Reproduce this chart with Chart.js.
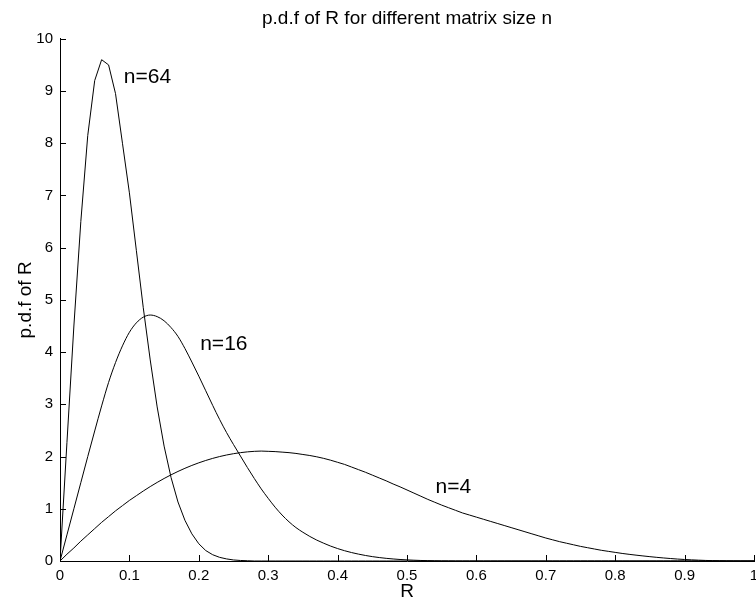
<!DOCTYPE html>
<html>
<head>
<meta charset="utf-8">
<script src="https://cdn.jsdelivr.net/npm/chart.js@4.4.0/dist/chart.umd.min.js"></script>
<style>
  html, body { margin: 0; padding: 0; background: #fff; }
  #wrap { width: 756px; height: 607px; }
</style>
</head>
<body>
<div id="wrap"><canvas id="pdfChart" width="756" height="607"></canvas></div>
<script>
// R grid, step 0.01
var rValues = [
  0.00, 0.01, 0.02, 0.03, 0.04, 0.05, 0.06, 0.07, 0.08, 0.09,
  0.10, 0.11, 0.12, 0.13, 0.14, 0.15, 0.16, 0.17, 0.18, 0.19,
  0.20, 0.21, 0.22, 0.23, 0.24, 0.25, 0.26, 0.27, 0.28, 0.29,
  0.30, 0.31, 0.32, 0.33, 0.34, 0.35, 0.36, 0.37, 0.38, 0.39,
  0.40, 0.41, 0.42, 0.43, 0.44, 0.45, 0.46, 0.47, 0.48, 0.49,
  0.50, 0.51, 0.52, 0.53, 0.54, 0.55, 0.56, 0.57, 0.58, 0.59,
  0.60, 0.61, 0.62, 0.63, 0.64, 0.65, 0.66, 0.67, 0.68, 0.69,
  0.70, 0.71, 0.72, 0.73, 0.74, 0.75, 0.76, 0.77, 0.78, 0.79,
  0.80, 0.81, 0.82, 0.83, 0.84, 0.85, 0.86, 0.87, 0.88, 0.89,
  0.90, 0.91, 0.92, 0.93, 0.94, 0.95, 0.96, 0.97, 0.98, 0.99,
  1.00
];

var pdfN64 = [
  0, 2.27, 4.5, 6.5, 8.15, 9.2, 9.6, 9.5, 8.95, 8.0,
  7.05, 5.95, 4.85, 3.85, 2.95, 2.2, 1.6, 1.13, 0.78, 0.52,
  0.33, 0.2, 0.12, 0.07, 0.04, 0.02, 0.01, 0.005, 0, 0,
  0, 0, 0, 0, 0, 0, 0, 0, 0, 0,
  0, 0, 0, 0, 0, 0, 0, 0, 0, 0,
  0, 0, 0, 0, 0, 0, 0, 0, 0, 0,
  0, 0, 0, 0, 0, 0, 0, 0, 0, 0,
  0, 0, 0, 0, 0, 0, 0, 0, 0, 0,
  0, 0, 0, 0, 0, 0, 0, 0, 0, 0,
  0, 0, 0, 0, 0, 0, 0, 0, 0, 0,
  0
];

var pdfN16 = [
  0, 0.5, 1.0, 1.5, 2.0, 2.49, 2.97, 3.42, 3.8, 4.12,
  4.38, 4.56, 4.67, 4.71, 4.68, 4.6, 4.47, 4.3, 4.07, 3.81,
  3.54, 3.26, 2.98, 2.71, 2.46, 2.23, 2.01, 1.79, 1.58, 1.38,
  1.2, 1.03, 0.88, 0.75, 0.64, 0.55, 0.47, 0.4, 0.34, 0.285,
  0.238, 0.197, 0.162, 0.132, 0.106, 0.084, 0.066, 0.051, 0.039, 0.029,
  0.021, 0.015, 0.01, 0.007, 0.004, 0.002, 0.001, 0, 0, 0,
  0, 0, 0, 0, 0, 0, 0, 0, 0, 0,
  0, 0, 0, 0, 0, 0, 0, 0, 0, 0,
  0, 0, 0, 0, 0, 0, 0, 0, 0, 0,
  0, 0, 0, 0, 0, 0, 0, 0, 0, 0,
  0
];

var pdfN4 = [
  0, 0.13, 0.25, 0.38, 0.5, 0.62, 0.74, 0.85, 0.96, 1.06,
  1.16, 1.25, 1.34, 1.425, 1.505, 1.58, 1.65, 1.715, 1.775, 1.83,
  1.88, 1.925, 1.965, 2.0, 2.03, 2.055, 2.075, 2.09, 2.1, 2.105,
  2.1, 2.095, 2.085, 2.075, 2.06, 2.04, 2.02, 1.995, 1.965, 1.93,
  1.89, 1.85, 1.8, 1.75, 1.7, 1.645, 1.59, 1.535, 1.475, 1.42,
  1.36, 1.3, 1.24, 1.18, 1.125, 1.07, 1.02, 0.97, 0.92, 0.88,
  0.84, 0.8, 0.76, 0.72, 0.68, 0.64, 0.6, 0.56, 0.52, 0.48,
  0.44, 0.405, 0.37, 0.34, 0.31, 0.28, 0.255, 0.23, 0.205, 0.185,
  0.165, 0.145, 0.128, 0.112, 0.097, 0.083, 0.07, 0.058, 0.047, 0.037,
  0.029, 0.022, 0.016, 0.011, 0.007, 0.004, 0.002, 0.001, 0, 0,
  0
];

var xTicks = [0, 0.1, 0.2, 0.3, 0.4, 0.5, 0.6, 0.7, 0.8, 0.9, 1];
var yTicks = [0, 1, 2, 3, 4, 5, 6, 7, 8, 9, 10];

// curve labels: text, R position, pdf position (baseline)
var curveNames = ["n=64", "n=16", "n=4"];
var curveLabelR = [0.092, 0.202, 0.541];
var curveLabelY = [9.16, 4.04, 1.31];

var FONT = "'Liberation Sans', Arial, Helvetica, sans-serif";

function toPoints(ys) {
  return rValues.map(function (r, i) { return { x: r, y: ys[i] }; });
}

function curve(label, ys, smooth) {
  var ds = {
    label: label,
    data: toPoints(ys),
    borderColor: '#000',
    borderWidth: 1,
    pointRadius: 0,
    tension: 0,
    fill: false
  };
  if (smooth) ds.cubicInterpolationMode = 'monotone';
  return ds;
}

// MATLAB style ticks pointing into the axes
var inwardTicks = {
  id: 'inwardTicks',
  afterDraw: function (chart) {
    var ctx = chart.ctx, xs = chart.scales.x, ys = chart.scales.y;
    var area = chart.chartArea;
    ctx.save();
    ctx.strokeStyle = '#000';
    ctx.lineWidth = 1;
    ctx.beginPath();
    xTicks.forEach(function (v) {
      var px = Math.round(xs.getPixelForValue(v)) + 0.5;
      ctx.moveTo(px, area.bottom);
      ctx.lineTo(px, area.bottom - 6);
    });
    yTicks.forEach(function (v) {
      var py = Math.round(ys.getPixelForValue(v)) + 0.5;
      ctx.moveTo(area.left, py);
      ctx.lineTo(area.left + 6, py);
    });
    ctx.stroke();
    ctx.restore();
  }
};

var curveLabels = {
  id: 'curveLabels',
  afterDatasetsDraw: function (chart) {
    var ctx = chart.ctx, xs = chart.scales.x, ys = chart.scales.y;
    ctx.save();
    ctx.fillStyle = '#000';
    ctx.font = '21px ' + FONT;
    ctx.textAlign = 'left';
    ctx.textBaseline = 'alphabetic';
    curveNames.forEach(function (name, i) {
      ctx.fillText(name, xs.getPixelForValue(curveLabelR[i]), ys.getPixelForValue(curveLabelY[i]));
    });
    ctx.restore();
  }
};

window.onload = function () {
  var ctx = document.getElementById('pdfChart').getContext('2d');
  var pdfChart = new Chart(ctx, {
    type: 'line',
    data: {
      datasets: [
        curve('n=64', pdfN64, false),
        curve('n=16', pdfN16, true),
        curve('n=4', pdfN4, true)
      ]
    },
    options: {
      responsive: false,
      animation: false,
      layout: { padding: { left: 0, right: 2, top: 0, bottom: 0 } },
      plugins: {
        legend: { display: false },
        tooltip: { enabled: false },
        title: {
          display: true,
          text: 'p.d.f of R for different matrix size n',
          fullSize: false,
          color: '#000',
          font: { family: FONT, size: 19, weight: 'normal' },
          padding: { top: 7, bottom: 9 }
        }
      },
      scales: {
        x: {
          type: 'linear',
          min: 0,
          max: 1,
          afterBuildTicks: function (s) { s.ticks = xTicks.map(function (v) { return { value: v }; }); },
          afterFit: function (s) { s.height = 46; s.paddingLeft = 0; s.paddingRight = 0; },
          grid: { display: true, drawOnChartArea: false, drawTicks: false },
          border: { display: true, color: '#000', width: 1 },
          ticks: {
            color: '#000',
            padding: 6,
            maxRotation: 0,
            font: { family: FONT, size: 15 },
            callback: function (v) { return String(Math.round(v * 10) / 10); }
          },
          title: {
            display: true,
            text: 'R',
            color: '#000',
            font: { family: FONT, size: 19 },
            padding: { top: 0, bottom: 4 }
          }
        },
        y: {
          type: 'linear',
          min: 0,
          max: 10,
          afterBuildTicks: function (s) { s.ticks = yTicks.map(function (v) { return { value: v }; }); },
          afterFit: function (s) { s.width = 60; s.paddingTop = 0; s.paddingBottom = 0; },
          grid: { display: true, drawOnChartArea: false, drawTicks: false },
          border: { display: true, color: '#000', width: 1 },
          ticks: {
            color: '#000',
            padding: 7,
            font: { family: FONT, size: 15 }
          },
          title: {
            display: true,
            text: 'p.d.f of R',
            color: '#000',
            font: { family: FONT, size: 19 },
            padding: { top: 14, bottom: 0 }
          }
        }
      }
    },
    plugins: [inwardTicks, curveLabels]
  });
};
</script>
</body>
</html>
